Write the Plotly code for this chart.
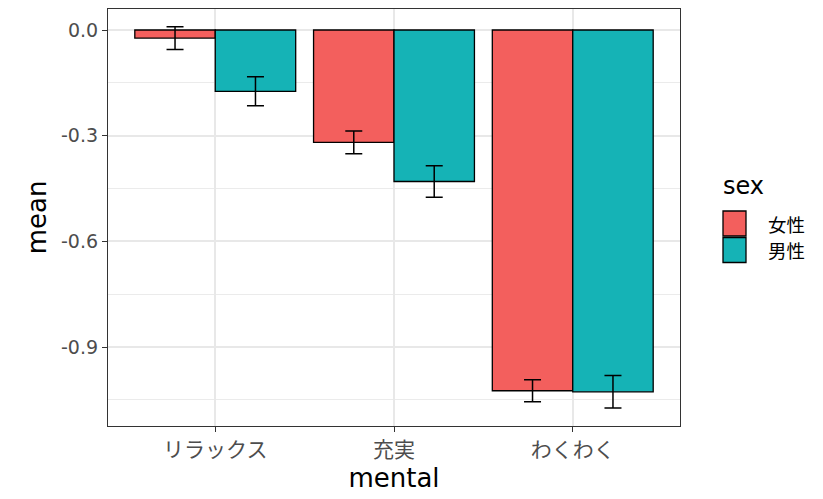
import plotly.graph_objects as go

# Mean scores (with error half-widths) by mental state and sex
mental = ["リラックス", "充実", "わくわく"]
sexes = ["女性", "男性"]
mean_female = [-0.023, -0.319, -1.024]
err_female = [0.032, 0.032, 0.031]
mean_male = [-0.174, -0.430, -1.027]
err_male = [0.041, 0.045, 0.046]

colors = {"女性": "#F35F5D", "男性": "#15B3B6"}
CJK = "Noto Sans CJK JP"
LATIN = "DejaVu Sans, Noto Sans CJK JP"

fig = go.Figure()
for sex, vals, errs in [("女性", mean_female, err_female), ("男性", mean_male, err_male)]:
    fig.add_trace(go.Bar(
        x=mental, y=vals, name=sex, showlegend=False,
        marker=dict(color=colors[sex], line=dict(color="black", width=1.3)),
        error_y=dict(type="data", array=errs, visible=True,
                     color="black", thickness=1.5, width=8.5),
    ))

# Legend drawn as keyed boxes beside the panel
L, R, T, B = 108, 680, 9, 426
def px(x):
    return (x - L) / (R - L)
def py(y):
    return (B - y) / (B - T)

fig.add_annotation(text="sex", x=px(721), y=py(186), xref="paper", yref="paper",
                   xanchor="left", yanchor="middle", showarrow=False,
                   font=dict(family=LATIN, size=24, color="black"))
for i, sex in enumerate(sexes):
    top = 211 + i * 26.5
    fig.add_shape(type="rect", xref="paper", yref="paper",
                  x0=px(723), x1=px(746), y0=py(top), y1=py(top + 25),
                  fillcolor=colors[sex], line=dict(color="black", width=1.3))
    fig.add_annotation(text=sex, x=px(766), y=py(top + 13), xref="paper", yref="paper",
                       xanchor="left", yanchor="middle", showarrow=False,
                       font=dict(family=CJK, size=18.5, color="black"))

fig.update_layout(
    width=823, height=499,
    margin=dict(l=L, r=823 - R, t=T, b=499 - B),
    paper_bgcolor="white", plot_bgcolor="white",
    barmode="group", bargap=0.1, bargroupgap=0,
    font=dict(family=CJK, color="black"),
)

fig.update_xaxes(
    range=[-0.6, 2.6],
    showgrid=True, gridcolor="#E8E8E8", gridwidth=1.6,
    ticks="outside", ticklen=5, tickcolor="#333333", tickwidth=1.3,
    tickfont=dict(size=21, color="#4D4D4D", family=CJK),
    title=dict(text="mental", font=dict(size=26, family=LATIN), standoff=6),
    showline=True, linecolor="#333333", linewidth=1.2, mirror=True,
    zeroline=False,
)
fig.update_yaxes(
    range=[-1.124, 0.0596],
    tickvals=[0.0, -0.3, -0.6, -0.9],
    ticktext=["0.0", "-0.3", "-0.6", "-0.9"],
    showgrid=True, gridcolor="#E8E8E8", gridwidth=1.6,
    minor=dict(tickvals=[-0.15, -0.45, -0.75, -1.05], showgrid=True,
               gridcolor="#EBEBEB", gridwidth=1.0, ticks=""),
    ticks="outside", ticklen=5, tickcolor="#333333", tickwidth=1.3,
    tickfont=dict(size=19, color="#4D4D4D", family=LATIN),
    title=dict(text="mean", font=dict(size=26, family=LATIN), standoff=6),
    showline=True, linecolor="#333333", linewidth=1.2, mirror=True,
    zeroline=False,
)

fig.write_html("out.html")
